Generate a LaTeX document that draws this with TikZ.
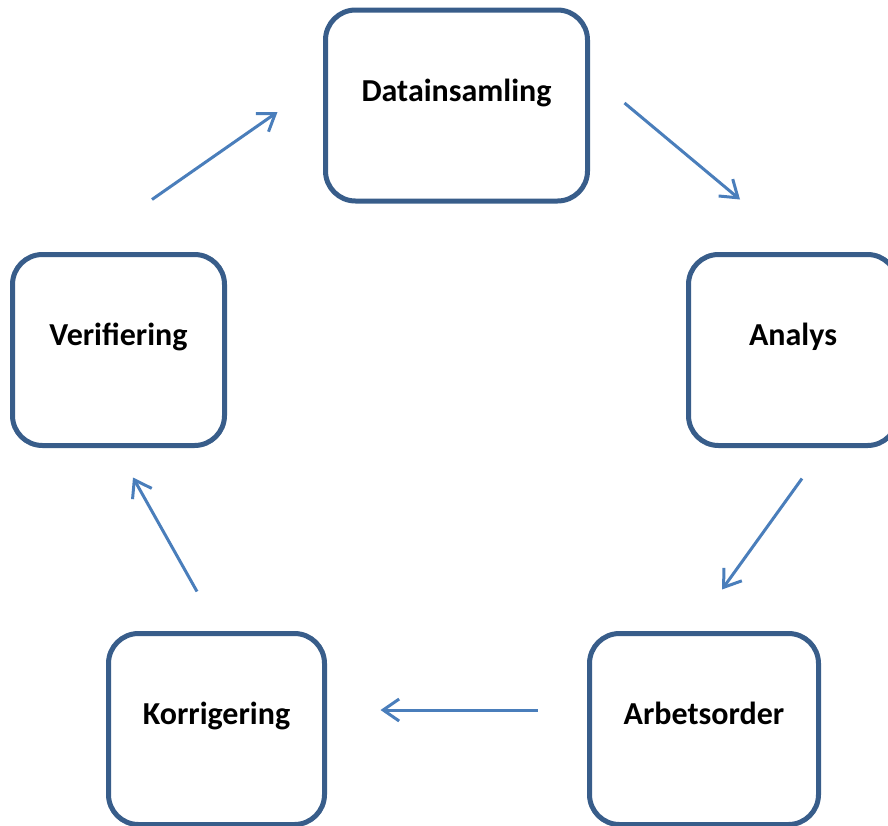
\documentclass[tikz,border=0pt]{standalone}
\usepackage{fontspec}
\setmainfont{Carlito}
\usetikzlibrary{arrows.meta}
\definecolor{boxblue}{HTML}{385D8A}
\definecolor{arrowblue}{HTML}{4A7EBB}
\begin{document}
\begin{tikzpicture}[x=1pt,y=1pt,
    stepbox/.style={draw=boxblue,line width=5pt,rounded corners=30pt,fill=white,
      minimum height=191pt,inner sep=0pt,font=\fontsize{32}{34}\selectfont\bfseries,
      text height=21pt,text depth=30pt},
    flow/.style={draw=arrowblue,line width=3pt,-{Straight Barb[length=16pt,width=22pt]}}]
			      \useasboundingbox (0,0) rectangle (888,-825);
			      \clip (0,0) rectangle (888,-825);
			      \node[stepbox,minimum width=262pt] (D) at (456.5,-105.5) {Datainsamling};
			      \node[stepbox,minimum width=209pt] (A) at (793,-350) {Analys};
			      \node[stepbox,minimum width=229pt] (B) at (704,-729) {Arbetsorder};
			      \node[stepbox,minimum width=216pt] (K) at (216.5,-729) {Korrigering};
			      \node[stepbox,minimum width=212pt] (V) at (118.5,-350) {Verifiering};
			      \draw[flow] ([shift={(33.5,52.5)}]V.north)--([shift={(-45.5,-6.5)}]D.west);
			      \draw[flow] ([shift={(34.5,2.5)}]D.east)--([shift={(-53,52.5)}]A.north);
			      \draw[flow] ([shift={(9,-30.5)}]A.south)--([shift={(18,41.5)}]B.north);
			      \draw[flow] ([shift={(-49.5,19)}]B.west)--([shift={(53.5,19)}]K.east);
			      \draw[flow] ([shift={(-19.5,39.5)}]K.north)--([shift={(14.5,-29.5)}]V.south);
		      \end{tikzpicture}
\end{document}
